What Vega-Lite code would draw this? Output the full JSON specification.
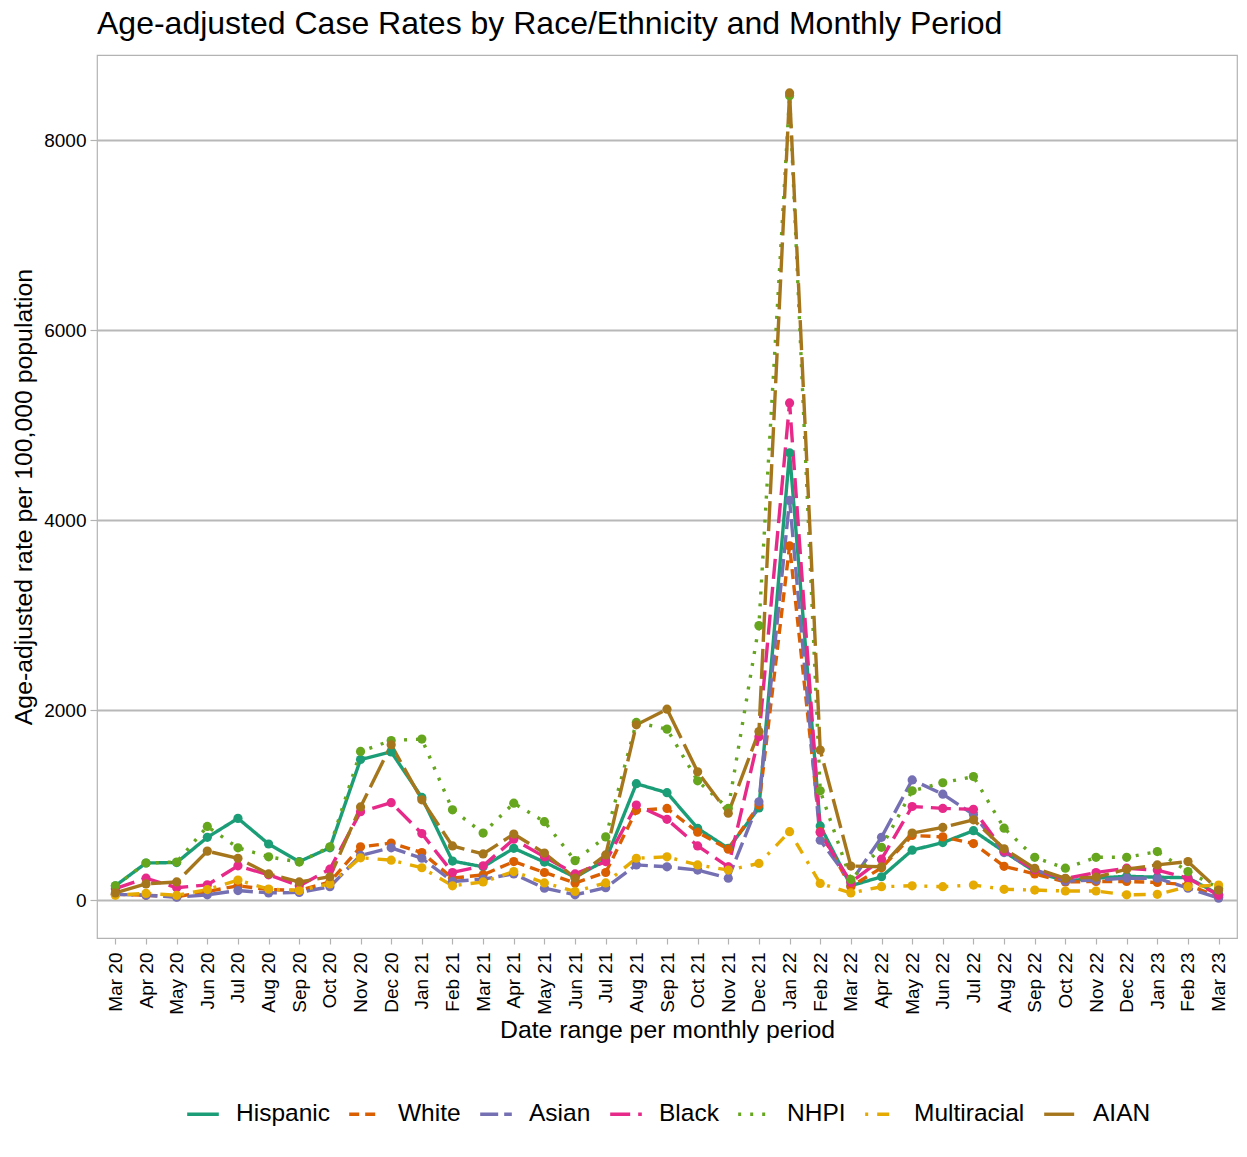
{
  "$schema": "https://vega.github.io/schema/vega-lite/v6.json",
  "autosize": {"type": "none"},
  "padding": {"left": 97, "top": 55, "right": 10, "bottom": 219},
  "width": 1140,
  "height": 883,
  "background": "white",
  "title": {"text": "Age-adjusted Case Rates by Race/Ethnicity and Monthly Period", "anchor": "start", "frame": "group", "fontSize": 32, "font": "Liberation Sans", "fontWeight": "normal", "color": "black", "offset": 14},
  "config": {
    "view": {"stroke": "#b3b3b3", "strokeWidth": 1.2},
    "axis": {"labelFont": "Liberation Sans", "titleFont": "Liberation Sans", "labelColor": "black", "titleColor": "black", "titleFontWeight": "normal", "tickColor": "#b3b3b3", "tickWidth": 1.2}
  },
  "data": {"values": [
    {"month":"Mar 20","race":"Hispanic","rate":150},{"month":"Apr 20","race":"Hispanic","rate":390},{"month":"May 20","race":"Hispanic","rate":395},{"month":"Jun 20","race":"Hispanic","rate":660},{"month":"Jul 20","race":"Hispanic","rate":860},{"month":"Aug 20","race":"Hispanic","rate":590},{"month":"Sep 20","race":"Hispanic","rate":405},{"month":"Oct 20","race":"Hispanic","rate":550},{"month":"Nov 20","race":"Hispanic","rate":1480},{"month":"Dec 20","race":"Hispanic","rate":1560},{"month":"Jan 21","race":"Hispanic","rate":1080},{"month":"Feb 21","race":"Hispanic","rate":410},{"month":"Mar 21","race":"Hispanic","rate":350},{"month":"Apr 21","race":"Hispanic","rate":545},{"month":"May 21","race":"Hispanic","rate":400},{"month":"Jun 21","race":"Hispanic","rate":240},{"month":"Jul 21","race":"Hispanic","rate":420},{"month":"Aug 21","race":"Hispanic","rate":1225},{"month":"Sep 21","race":"Hispanic","rate":1130},{"month":"Oct 21","race":"Hispanic","rate":755},{"month":"Nov 21","race":"Hispanic","rate":545},{"month":"Dec 21","race":"Hispanic","rate":970},{"month":"Jan 22","race":"Hispanic","rate":4710},{"month":"Feb 22","race":"Hispanic","rate":780},{"month":"Mar 22","race":"Hispanic","rate":150},{"month":"Apr 22","race":"Hispanic","rate":245},{"month":"May 22","race":"Hispanic","rate":525},{"month":"Jun 22","race":"Hispanic","rate":605},{"month":"Jul 22","race":"Hispanic","rate":730},{"month":"Aug 22","race":"Hispanic","rate":510},{"month":"Sep 22","race":"Hispanic","rate":300},{"month":"Oct 22","race":"Hispanic","rate":200},{"month":"Nov 22","race":"Hispanic","rate":230},{"month":"Dec 22","race":"Hispanic","rate":250},{"month":"Jan 23","race":"Hispanic","rate":240},{"month":"Feb 23","race":"Hispanic","rate":235},{"month":"Mar 23","race":"Hispanic","rate":60},
    {"month":"Mar 20","race":"White","rate":60},{"month":"Apr 20","race":"White","rate":50},{"month":"May 20","race":"White","rate":35},{"month":"Jun 20","race":"White","rate":90},{"month":"Jul 20","race":"White","rate":150},{"month":"Aug 20","race":"White","rate":110},{"month":"Sep 20","race":"White","rate":100},{"month":"Oct 20","race":"White","rate":190},{"month":"Nov 20","race":"White","rate":560},{"month":"Dec 20","race":"White","rate":600},{"month":"Jan 21","race":"White","rate":500},{"month":"Feb 21","race":"White","rate":230},{"month":"Mar 21","race":"White","rate":265},{"month":"Apr 21","race":"White","rate":405},{"month":"May 21","race":"White","rate":290},{"month":"Jun 21","race":"White","rate":180},{"month":"Jul 21","race":"White","rate":290},{"month":"Aug 21","race":"White","rate":945},{"month":"Sep 21","race":"White","rate":965},{"month":"Oct 21","race":"White","rate":715},{"month":"Nov 21","race":"White","rate":535},{"month":"Dec 21","race":"White","rate":1000},{"month":"Jan 22","race":"White","rate":3730},{"month":"Feb 22","race":"White","rate":720},{"month":"Mar 22","race":"White","rate":140},{"month":"Apr 22","race":"White","rate":340},{"month":"May 22","race":"White","rate":680},{"month":"Jun 22","race":"White","rate":665},{"month":"Jul 22","race":"White","rate":595},{"month":"Aug 22","race":"White","rate":355},{"month":"Sep 22","race":"White","rate":275},{"month":"Oct 22","race":"White","rate":190},{"month":"Nov 22","race":"White","rate":195},{"month":"Dec 22","race":"White","rate":195},{"month":"Jan 23","race":"White","rate":185},{"month":"Feb 23","race":"White","rate":160},{"month":"Mar 23","race":"White","rate":30},
    {"month":"Mar 20","race":"Asian","rate":60},{"month":"Apr 20","race":"Asian","rate":50},{"month":"May 20","race":"Asian","rate":30},{"month":"Jun 20","race":"Asian","rate":55},{"month":"Jul 20","race":"Asian","rate":100},{"month":"Aug 20","race":"Asian","rate":75},{"month":"Sep 20","race":"Asian","rate":80},{"month":"Oct 20","race":"Asian","rate":140},{"month":"Nov 20","race":"Asian","rate":470},{"month":"Dec 20","race":"Asian","rate":550},{"month":"Jan 21","race":"Asian","rate":440},{"month":"Feb 21","race":"Asian","rate":195},{"month":"Mar 21","race":"Asian","rate":220},{"month":"Apr 21","race":"Asian","rate":275},{"month":"May 21","race":"Asian","rate":125},{"month":"Jun 21","race":"Asian","rate":55},{"month":"Jul 21","race":"Asian","rate":130},{"month":"Aug 21","race":"Asian","rate":370},{"month":"Sep 21","race":"Asian","rate":350},{"month":"Oct 21","race":"Asian","rate":315},{"month":"Nov 21","race":"Asian","rate":230},{"month":"Dec 21","race":"Asian","rate":1035},{"month":"Jan 22","race":"Asian","rate":4210},{"month":"Feb 22","race":"Asian","rate":630},{"month":"Mar 22","race":"Asian","rate":190},{"month":"Apr 22","race":"Asian","rate":660},{"month":"May 22","race":"Asian","rate":1265},{"month":"Jun 22","race":"Asian","rate":1115},{"month":"Jul 22","race":"Asian","rate":900},{"month":"Aug 22","race":"Asian","rate":500},{"month":"Sep 22","race":"Asian","rate":320},{"month":"Oct 22","race":"Asian","rate":200},{"month":"Nov 22","race":"Asian","rate":210},{"month":"Dec 22","race":"Asian","rate":230},{"month":"Jan 23","race":"Asian","rate":230},{"month":"Feb 23","race":"Asian","rate":125},{"month":"Mar 23","race":"Asian","rate":20},
    {"month":"Mar 20","race":"Black","rate":120},{"month":"Apr 20","race":"Black","rate":230},{"month":"May 20","race":"Black","rate":130},{"month":"Jun 20","race":"Black","rate":160},{"month":"Jul 20","race":"Black","rate":360},{"month":"Aug 20","race":"Black","rate":265},{"month":"Sep 20","race":"Black","rate":150},{"month":"Oct 20","race":"Black","rate":325},{"month":"Nov 20","race":"Black","rate":930},{"month":"Dec 20","race":"Black","rate":1025},{"month":"Jan 21","race":"Black","rate":700},{"month":"Feb 21","race":"Black","rate":290},{"month":"Mar 21","race":"Black","rate":360},{"month":"Apr 21","race":"Black","rate":640},{"month":"May 21","race":"Black","rate":455},{"month":"Jun 21","race":"Black","rate":275},{"month":"Jul 21","race":"Black","rate":405},{"month":"Aug 21","race":"Black","rate":1000},{"month":"Sep 21","race":"Black","rate":850},{"month":"Oct 21","race":"Black","rate":570},{"month":"Nov 21","race":"Black","rate":350},{"month":"Dec 21","race":"Black","rate":1720},{"month":"Jan 22","race":"Black","rate":5235},{"month":"Feb 22","race":"Black","rate":710},{"month":"Mar 22","race":"Black","rate":185},{"month":"Apr 22","race":"Black","rate":430},{"month":"May 22","race":"Black","rate":985},{"month":"Jun 22","race":"Black","rate":965},{"month":"Jul 22","race":"Black","rate":955},{"month":"Aug 22","race":"Black","rate":515},{"month":"Sep 22","race":"Black","rate":320},{"month":"Oct 22","race":"Black","rate":225},{"month":"Nov 22","race":"Black","rate":290},{"month":"Dec 22","race":"Black","rate":335},{"month":"Jan 23","race":"Black","rate":315},{"month":"Feb 23","race":"Black","rate":230},{"month":"Mar 23","race":"Black","rate":50},
    {"month":"Mar 20","race":"NHPI","rate":150},{"month":"Apr 20","race":"NHPI","rate":390},{"month":"May 20","race":"NHPI","rate":400},{"month":"Jun 20","race":"NHPI","rate":775},{"month":"Jul 20","race":"NHPI","rate":550},{"month":"Aug 20","race":"NHPI","rate":455},{"month":"Sep 20","race":"NHPI","rate":400},{"month":"Oct 20","race":"NHPI","rate":560},{"month":"Nov 20","race":"NHPI","rate":1565},{"month":"Dec 20","race":"NHPI","rate":1680},{"month":"Jan 21","race":"NHPI","rate":1695},{"month":"Feb 21","race":"NHPI","rate":950},{"month":"Mar 21","race":"NHPI","rate":705},{"month":"Apr 21","race":"NHPI","rate":1020},{"month":"May 21","race":"NHPI","rate":825},{"month":"Jun 21","race":"NHPI","rate":415},{"month":"Jul 21","race":"NHPI","rate":665},{"month":"Aug 21","race":"NHPI","rate":1870},{"month":"Sep 21","race":"NHPI","rate":1800},{"month":"Oct 21","race":"NHPI","rate":1255},{"month":"Nov 21","race":"NHPI","rate":965},{"month":"Dec 21","race":"NHPI","rate":2890},{"month":"Jan 22","race":"NHPI","rate":8470},{"month":"Feb 22","race":"NHPI","rate":1150},{"month":"Mar 22","race":"NHPI","rate":215},{"month":"Apr 22","race":"NHPI","rate":555},{"month":"May 22","race":"NHPI","rate":1150},{"month":"Jun 22","race":"NHPI","rate":1235},{"month":"Jul 22","race":"NHPI","rate":1300},{"month":"Aug 22","race":"NHPI","rate":757},{"month":"Sep 22","race":"NHPI","rate":450},{"month":"Oct 22","race":"NHPI","rate":335},{"month":"Nov 22","race":"NHPI","rate":450},{"month":"Dec 22","race":"NHPI","rate":450},{"month":"Jan 23","race":"NHPI","rate":510},{"month":"Feb 23","race":"NHPI","rate":300},{"month":"Mar 23","race":"NHPI","rate":125},
    {"month":"Mar 20","race":"Multiracial","rate":50},{"month":"Apr 20","race":"Multiracial","rate":70},{"month":"May 20","race":"Multiracial","rate":50},{"month":"Jun 20","race":"Multiracial","rate":110},{"month":"Jul 20","race":"Multiracial","rate":210},{"month":"Aug 20","race":"Multiracial","rate":115},{"month":"Sep 20","race":"Multiracial","rate":100},{"month":"Oct 20","race":"Multiracial","rate":170},{"month":"Nov 20","race":"Multiracial","rate":445},{"month":"Dec 20","race":"Multiracial","rate":420},{"month":"Jan 21","race":"Multiracial","rate":340},{"month":"Feb 21","race":"Multiracial","rate":150},{"month":"Mar 21","race":"Multiracial","rate":190},{"month":"Apr 21","race":"Multiracial","rate":300},{"month":"May 21","race":"Multiracial","rate":180},{"month":"Jun 21","race":"Multiracial","rate":90},{"month":"Jul 21","race":"Multiracial","rate":180},{"month":"Aug 21","race":"Multiracial","rate":440},{"month":"Sep 21","race":"Multiracial","rate":455},{"month":"Oct 21","race":"Multiracial","rate":370},{"month":"Nov 21","race":"Multiracial","rate":315},{"month":"Dec 21","race":"Multiracial","rate":385},{"month":"Jan 22","race":"Multiracial","rate":720},{"month":"Feb 22","race":"Multiracial","rate":175},{"month":"Mar 22","race":"Multiracial","rate":75},{"month":"Apr 22","race":"Multiracial","rate":140},{"month":"May 22","race":"Multiracial","rate":150},{"month":"Jun 22","race":"Multiracial","rate":140},{"month":"Jul 22","race":"Multiracial","rate":158},{"month":"Aug 22","race":"Multiracial","rate":113},{"month":"Sep 22","race":"Multiracial","rate":105},{"month":"Oct 22","race":"Multiracial","rate":95},{"month":"Nov 22","race":"Multiracial","rate":95},{"month":"Dec 22","race":"Multiracial","rate":55},{"month":"Jan 23","race":"Multiracial","rate":60},{"month":"Feb 23","race":"Multiracial","rate":140},{"month":"Mar 23","race":"Multiracial","rate":158},
    {"month":"Mar 20","race":"AIAN","rate":75},{"month":"Apr 20","race":"AIAN","rate":170},{"month":"May 20","race":"AIAN","rate":190},{"month":"Jun 20","race":"AIAN","rate":515},{"month":"Jul 20","race":"AIAN","rate":440},{"month":"Aug 20","race":"AIAN","rate":275},{"month":"Sep 20","race":"AIAN","rate":190},{"month":"Oct 20","race":"AIAN","rate":245},{"month":"Nov 20","race":"AIAN","rate":980},{"month":"Dec 20","race":"AIAN","rate":1635},{"month":"Jan 21","race":"AIAN","rate":1055},{"month":"Feb 21","race":"AIAN","rate":570},{"month":"Mar 21","race":"AIAN","rate":485},{"month":"Apr 21","race":"AIAN","rate":695},{"month":"May 21","race":"AIAN","rate":495},{"month":"Jun 21","race":"AIAN","rate":232},{"month":"Jul 21","race":"AIAN","rate":475},{"month":"Aug 21","race":"AIAN","rate":1845},{"month":"Sep 21","race":"AIAN","rate":2010},{"month":"Oct 21","race":"AIAN","rate":1350},{"month":"Nov 21","race":"AIAN","rate":915},{"month":"Dec 21","race":"AIAN","rate":1775},{"month":"Jan 22","race":"AIAN","rate":8500},{"month":"Feb 22","race":"AIAN","rate":1580},{"month":"Mar 22","race":"AIAN","rate":358},{"month":"Apr 22","race":"AIAN","rate":350},{"month":"May 22","race":"AIAN","rate":705},{"month":"Jun 22","race":"AIAN","rate":765},{"month":"Jul 22","race":"AIAN","rate":845},{"month":"Aug 22","race":"AIAN","rate":540},{"month":"Sep 22","race":"AIAN","rate":334},{"month":"Oct 22","race":"AIAN","rate":228},{"month":"Nov 22","race":"AIAN","rate":240},{"month":"Dec 22","race":"AIAN","rate":325},{"month":"Jan 23","race":"AIAN","rate":370},{"month":"Feb 23","race":"AIAN","rate":405},{"month":"Mar 23","race":"AIAN","rate":105}
  ]},
  "encoding": {
    "x": {"field": "month", "type": "ordinal", "sort": null,
      "scale": {"type": "point", "padding": 0.6},
      "axis": {"title": "Date range per monthly period", "titleFontSize": 24.8, "titlePadding": 3, "labelAngle": 270, "labelAlign": "right", "labelBaseline": "middle", "labelFontSize": 19, "labelPadding": 8, "tickSize": 6, "domain": false, "grid": false}},
    "y": {"field": "rate", "type": "quantitative",
      "scale": {"domain": [-400, 8900], "nice": false, "zero": false},
      "axis": {"title": "Age-adjusted rate per 100,000 population", "titleFontSize": 24.8, "titlePadding": 7, "values": [0, 2000, 4000, 6000, 8000], "format": "d", "labelFontSize": 19, "labelPadding": 4, "tickSize": 7, "domain": false, "grid": true, "gridColor": "#b8b8b8", "gridWidth": 1.8}},
    "color": {"field": "race", "type": "nominal",
      "scale": {"domain": ["Hispanic", "White", "Asian", "Black", "NHPI", "Multiracial", "AIAN"], "range": ["#1B9E77", "#D95F02", "#7570B3", "#E7298A", "#66A61E", "#E6AB02", "#A6761D"]}}
  },
  "layer": [
    {"mark": {"type": "line", "strokeWidth": 3.4, "strokeCap": "butt"},
     "encoding": {
       "strokeDash": {"field": "race", "type": "nominal",
         "scale": {"domain": ["Hispanic", "White", "Asian", "Black", "NHPI", "Multiracial", "AIAN"], "range": [[1, 0], [10, 6], [18, 6], [20, 8], [3, 9], [3, 9, 12, 9], [30, 7]]}},
       "color": {"field": "race", "type": "nominal",
         "scale": {"domain": ["Hispanic", "White", "Asian", "Black", "NHPI", "Multiracial", "AIAN"], "range": ["#1B9E77", "#D95F02", "#7570B3", "#E7298A", "#66A61E", "#E6AB02", "#A6761D"]},
         "legend": {"title": null, "orient": "none", "direction": "horizontal", "legendX": 88, "legendY": 1041, "labelFontSize": 24.5, "labelFont": "Liberation Sans", "labelColor": "black", "symbolType": "stroke", "symbolStrokeWidth": 3.4, "symbolSize": 1000, "labelOffset": 15, "columnPadding": 12, "labelLimit": 300}}
     }},
    {"mark": {"type": "point", "filled": true, "opacity": 1, "size": 85},
     "encoding": {"color": {"field": "race", "type": "nominal", "legend": null,
        "scale": {"domain": ["Hispanic", "White", "Asian", "Black", "NHPI", "Multiracial", "AIAN"], "range": ["#1B9E77", "#D95F02", "#7570B3", "#E7298A", "#66A61E", "#E6AB02", "#A6761D"]}}}}
  ]
}
